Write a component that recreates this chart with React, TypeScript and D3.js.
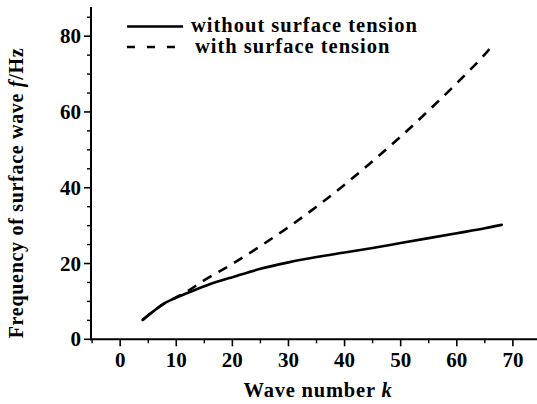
import React from "react";
import * as d3 from "d3";

const kNoTension = [4, 6, 8, 10, 12, 15, 18, 20, 25, 30, 35, 40, 45, 50, 55, 60, 65, 68];
const fNoTension = [5.1, 7.5, 9.6, 11.0, 12.2, 14.0, 15.5, 16.4, 18.6, 20.3, 21.7, 22.9, 24.1, 25.4, 26.7, 28.0, 29.3, 30.2];

const kTension = [4, 6, 8, 10, 12, 15, 20, 25, 30, 35, 40, 45, 50, 55, 60, 65, 66.5];
const fTension = [5.1, 7.5, 9.6, 11.1, 12.7, 15.6, 19.9, 24.6, 29.6, 35.0, 40.8, 47.0, 53.5, 60.4, 67.6, 75.2, 77.7];

const xTicks = [0, 10, 20, 30, 40, 50, 60, 70];
const xMinor = [-5, 5, 15, 25, 35, 45, 55, 65];
const yTicks = [0, 20, 40, 60, 80];
const yMinor = [5, 10, 15, 25, 30, 35, 45, 50, 55, 65, 70, 75, 85];

const legendLabels = ["without surface tension", "with surface tension"];

const W = 537;
const H = 404;

export default function App() {
  const x = d3.scaleLinear().domain([-5.2, 74.3]).range([91, 537]);
  const y = d3.scaleLinear().domain([0, 87.7]).range([339.3, 7]);
  const line = d3
    .line<[number, number]>()
    .x((d) => x(d[0]))
    .y((d) => y(d[1]))
    .curve(d3.curveMonotoneX);
  const solid = kNoTension.map((k, i) => [k, fNoTension[i]] as [number, number]);
  const dashed = kTension.map((k, i) => [k, fTension[i]] as [number, number]);
  const font = "Liberation Serif, serif";
  const x0 = x.range()[0];
  const yb = y.range()[0];
  return (
    <svg
      width={W}
      height={H}
      style={{ position: "fixed", left: 0, top: 0, background: "#fff" }}
      fontFamily={font}
    >
      <rect width={W} height={H} fill="#fff" />
      <line x1={x0} x2={x0} y1={y.range()[1]} y2={yb + 1} stroke="#000" strokeWidth={2} />
      <line x1={x0 - 1} x2={x.range()[1]} y1={yb} y2={yb} stroke="#000" strokeWidth={2} />
      {xTicks.map((t) => (
        <g key={"xt" + t}>
          <line x1={x(t)} x2={x(t)} y1={yb} y2={yb + 7} stroke="#000" strokeWidth={1.6} />
          <text x={x(t)} y={367} textAnchor="middle" fontSize={21} fontWeight="bold">
            {t}
          </text>
        </g>
      ))}
      {xMinor.map((t) => (
        <line key={"xm" + t} x1={x(t)} x2={x(t)} y1={yb} y2={yb + 4} stroke="#000" strokeWidth={1.4} />
      ))}
      {yTicks.map((t) => (
        <g key={"yt" + t}>
          <line x1={x0 - 7} x2={x0} y1={y(t)} y2={y(t)} stroke="#000" strokeWidth={1.6} />
          <text x={81} y={y(t) + 7} textAnchor="end" fontSize={21} fontWeight="bold">
            {t}
          </text>
        </g>
      ))}
      {yMinor.map((t) => (
        <line key={"ym" + t} x1={x0 - 4} x2={x0} y1={y(t)} y2={y(t)} stroke="#000" strokeWidth={1.4} />
      ))}
      <path d={line(solid) || ""} fill="none" stroke="#000" strokeWidth={2.6} strokeLinecap="round" />
      <path
        d={line(dashed) || ""}
        fill="none"
        stroke="#000"
        strokeWidth={2.6}
        strokeDasharray="10 8"
      />
      <line x1={127} x2={183} y1={26.5} y2={26.5} stroke="#000" strokeWidth={2.6} />
      <line x1={127} x2={176} y1={47} y2={47} stroke="#000" strokeWidth={2.6} strokeDasharray="8 12" />
      <text x={191} y={32} fontSize={20.5} fontWeight="bold" letterSpacing={1}>
        {legendLabels[0]}
      </text>
      <text x={195} y={53} fontSize={20.5} fontWeight="bold" letterSpacing={1}>
        {legendLabels[1]}
      </text>
      <text x={318} y={397} textAnchor="middle" fontSize={20.5} fontWeight="bold" letterSpacing={0.8}>
        Wave number <tspan fontStyle="italic">k</tspan>
      </text>
      <text
        transform={`translate(23, 193) rotate(-90)`}
        textAnchor="middle"
        fontSize={20}
        fontWeight="bold"
        letterSpacing={0.7}
      >
        Frequency of surface wave <tspan fontStyle="italic">f</tspan>/Hz
      </text>
    </svg>
  );
}
